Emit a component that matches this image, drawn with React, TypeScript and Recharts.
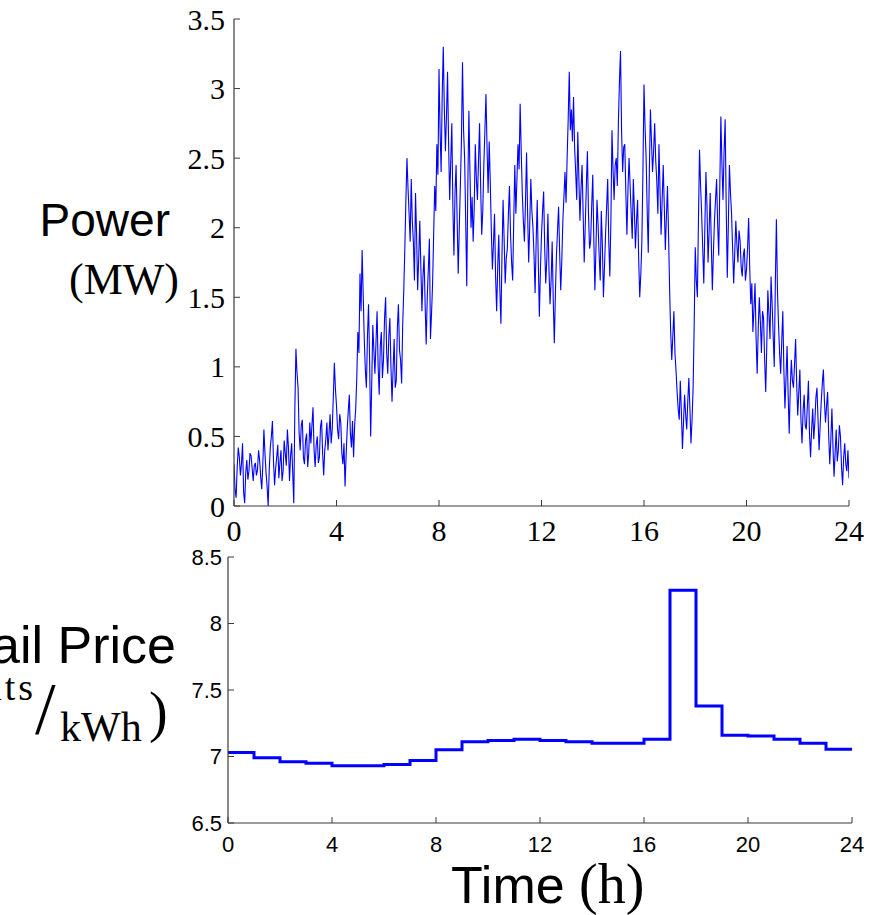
import React from 'react';
import { LineChart, Line, XAxis, YAxis } from 'recharts';

const hourTicks = [0, 4, 8, 12, 16, 20, 24];
const powerTicks = [0, 0.5, 1, 1.5, 2, 2.5, 3, 3.5];
const priceTicks = [6.5, 7, 7.5, 8, 8.5];

// Power (MW), 2.5-minute samples, two rows per hour, plus the final sample at 24 h
const powerValues = [
  0.30, 0.12, 0.06, 0.28, 0.42, 0.35, 0.22, 0.30, 0.45, 0.10, 0.02, 0.24,
  0.33, 0.19, 0.25, 0.38, 0.36, 0.27, 0.18, 0.29, 0.31, 0.22, 0.26, 0.40,
  0.33, 0.21, 0.12, 0.30, 0.55, 0.38, 0.24, 0.14, 0.00, 0.26, 0.42, 0.50,
  0.61, 0.32, 0.15, 0.27, 0.35, 0.44, 0.20, 0.31, 0.40, 0.18, 0.25, 0.47,
  0.38, 0.29, 0.55, 0.42, 0.18, 0.36, 0.45, 0.24, 0.02, 0.70, 1.13, 0.96,
  0.85, 0.52, 0.40, 0.58, 0.62, 0.35, 0.30, 0.47, 0.52, 0.28, 0.38, 0.60,
  0.45, 0.58, 0.71, 0.40, 0.28, 0.44, 0.50, 0.31, 0.35, 0.57, 0.62, 0.38,
  0.22, 0.40, 0.48, 0.60, 0.40, 0.52, 0.66, 0.45, 0.55, 0.78, 1.03, 0.84,
  0.72, 0.55, 0.48, 0.66, 0.60, 0.38, 0.30, 0.45, 0.14, 0.36, 0.55, 0.68,
  0.80, 0.52, 0.42, 0.61, 0.35, 0.58, 0.70, 0.92, 1.25, 1.10, 1.67, 1.40,
  1.84, 1.52, 1.20, 0.98, 0.85, 1.22, 1.45, 1.05, 0.50, 0.88, 1.30, 1.12,
  0.95, 1.18, 1.40, 1.00, 0.80, 1.15, 1.25, 0.92, 1.05, 1.35, 1.50, 1.10,
  0.95, 1.22, 1.35, 1.00, 0.75, 0.98, 1.20, 0.85, 0.90, 1.28, 1.45, 1.12,
  1.05, 0.88, 1.30, 1.55, 1.85, 2.20, 2.50, 2.28, 2.10, 1.90, 2.35, 2.05,
  1.90, 1.62, 2.25, 1.95, 1.55, 1.78, 2.05, 1.72, 1.40, 1.65, 1.80, 1.45,
  1.16, 1.50, 1.70, 1.92, 1.20, 1.38, 1.60, 1.95, 2.30, 2.12, 2.60, 2.38,
  3.14, 2.70, 2.40, 2.95, 3.30, 2.85, 2.55, 2.80, 3.12, 2.60, 2.20, 2.48,
  2.75, 2.15, 1.80, 2.25, 2.45, 2.05, 1.67, 2.00, 2.30, 2.62, 3.19, 2.70,
  2.50, 2.05, 1.58, 2.30, 2.84, 2.40, 2.00, 2.22, 1.90, 2.15, 2.60, 2.35,
  2.20, 2.48, 2.75, 2.30, 1.95, 2.12, 2.45, 2.70, 2.96, 2.58, 2.25, 2.62,
  2.34, 1.98, 1.70, 1.88, 2.10, 1.65, 1.40, 1.72, 1.95, 1.55, 1.31, 1.80,
  2.20, 1.92, 1.60, 1.78, 1.85, 2.10, 2.30, 1.95, 1.75, 1.62, 2.05, 2.45,
  2.10, 2.35, 2.60, 2.42, 2.89, 2.55, 2.25, 2.05, 1.90, 2.18, 2.54, 2.10,
  1.75, 2.02, 2.35, 2.12, 2.00, 1.80, 1.53, 1.90, 2.20, 1.75, 1.36, 1.70,
  1.95, 2.12, 2.26, 1.85, 1.60, 1.78, 2.10, 1.70, 1.45, 1.62, 1.90, 1.48,
  1.17, 1.52, 1.80, 1.98, 2.15, 1.82, 1.55, 1.76, 2.05, 2.22, 2.40, 2.18,
  2.50, 2.78, 3.12, 2.70, 2.85, 2.62, 2.94, 2.58, 2.40, 2.20, 2.69, 2.35,
  2.05, 2.28, 2.45, 2.10, 1.75, 2.02, 2.30, 2.55, 2.10, 1.85, 1.90, 2.15,
  2.38, 1.92, 1.55, 1.85, 2.20, 2.02, 1.80, 1.62, 2.12, 1.88, 1.50, 1.72,
  1.95, 2.15, 2.35, 1.90, 1.65, 2.05, 2.70, 2.42, 2.20, 2.45, 2.50, 2.30,
  2.75, 3.05, 3.27, 2.70, 2.40, 2.58, 2.60, 2.25, 1.95, 2.28, 2.50, 2.30,
  2.10, 1.92, 2.35, 2.12, 1.85, 2.05, 2.20, 1.78, 1.50, 1.66, 1.90, 2.40,
  3.03, 2.72, 2.50, 2.12, 1.82, 2.40, 2.85, 2.62, 2.40, 2.55, 2.75, 2.48,
  2.33, 2.10, 2.60, 2.28, 1.95, 2.20, 2.45, 2.15, 1.84, 2.08, 2.30, 1.95,
  1.55, 1.25, 1.05, 1.22, 1.40, 1.10, 0.97, 0.82, 0.70, 0.62, 0.90, 0.68,
  0.41, 0.60, 0.80, 0.66, 0.55, 0.75, 0.92, 0.70, 0.45, 0.62, 0.85, 1.30,
  1.86, 1.62, 1.50, 2.05, 2.56, 2.30, 2.10, 1.85, 1.60, 2.00, 2.40, 2.15,
  1.75, 1.98, 2.25, 1.90, 1.55, 1.82, 2.05, 2.20, 2.35, 2.02, 1.80, 2.30,
  2.80, 2.45, 2.20, 2.55, 2.78, 2.15, 1.64, 2.02, 2.45, 2.25, 2.10, 1.85,
  1.60, 1.82, 2.05, 1.88, 1.75, 1.98, 1.91, 1.72, 1.65, 1.80, 1.85, 1.62,
  1.70, 1.85, 2.07, 1.72, 1.45, 1.60, 1.25, 1.42, 1.60, 1.20, 0.95, 1.28,
  1.50, 1.32, 1.10, 1.40, 1.35, 1.05, 0.82, 1.15, 1.55, 1.38, 1.20, 1.65,
  1.45, 1.22, 1.00, 1.60, 2.06, 1.55, 1.30, 1.10, 0.95, 1.18, 1.40, 0.98,
  0.70, 0.92, 1.15, 0.80, 0.52, 0.85, 1.05, 0.90, 0.85, 1.02, 1.20, 0.88,
  0.65, 0.82, 0.98, 0.62, 0.45, 0.68, 0.80, 0.58, 0.55, 0.72, 0.90, 0.52,
  0.35, 0.55, 0.70, 0.48, 0.60, 0.78, 0.85, 0.62, 0.40, 0.58, 0.75, 0.88,
  0.98, 0.75, 0.60, 0.72, 0.82, 0.50, 0.30, 0.48, 0.70, 0.42, 0.21, 0.38,
  0.55, 0.32, 0.40, 0.58, 0.50, 0.28, 0.15, 0.35, 0.45, 0.30, 0.25, 0.40,
  0.20,
];
const samplesPerHour = 24;

// Retail price (cents/kWh), one value per hour
const priceValues = [
  7.03, 6.99, 6.96, 6.95, 6.93, 6.93, 6.94, 6.97, 7.05, 7.11, 7.12, 7.13,
  7.12, 7.11, 7.10, 7.10, 7.13, 8.25, 7.38, 7.16, 7.155, 7.13, 7.10, 7.055,
];

const powerData = powerValues.map((p, i) => ({ t: i / samplesPerHour, p }));
const priceData = [...priceValues, priceValues[priceValues.length - 1]].map((c, i) => ({ t: i, c }));

const AXIS = '#3a3a3a';
const SERIF = "'Liberation Serif', 'Times New Roman', serif";
const SANS = "'Liberation Sans', Arial, Helvetica, sans-serif";
const BLUE = '#0000ff';
const TICK_LEN = 6;

const bottomTick = (ff: string, fs: number, gap: number) => (props: any) => {
  const { x, y, payload } = props;
  return (
    <g>
      <line x1={x} y1={y - gap} x2={x} y2={y - gap - TICK_LEN} stroke={AXIS} strokeWidth={1} />
      <text x={x} y={y} dy="0.7em" textAnchor="middle" fontFamily={ff} fontSize={fs} fill="#000">
        {payload.value}
      </text>
    </g>
  );
};

const leftTick = (ff: string, fs: number, gap: number) => (props: any) => {
  const { x, y, payload } = props;
  return (
    <g>
      <line x1={x + gap} y1={y} x2={x + gap + TICK_LEN} y2={y} stroke={AXIS} strokeWidth={1} />
      <text x={x} y={y} dy="0.35em" textAnchor="end" fontFamily={ff} fontSize={fs} fill="#000">
        {payload.value}
      </text>
    </g>
  );
};

const topTick = (props: any) => {
  const { x, y } = props;
  return <line x1={x} y1={y} x2={x} y2={y + TICK_LEN} stroke={AXIS} strokeWidth={1} />;
};

const rightTick = (props: any) => {
  const { x, y } = props;
  return <line x1={x} y1={y} x2={x - TICK_LEN} y2={y} stroke={AXIS} strokeWidth={1} />;
};

export default function App() {
  return (
    <div style={{ position: 'absolute', left: 0, top: 0, width: 882, height: 915, background: '#fff', overflow: 'hidden' }}>
      <div style={{ position: 'absolute', left: 0, top: 0 }}>
        <LineChart width={882} height={560} data={powerData} margin={{ top: 19, right: 33, left: 174, bottom: 24 }}>
          <XAxis
            dataKey="t"
            type="number"
            domain={[0, 24]}
            ticks={hourTicks}
            interval={0}
            allowDataOverflow
            height={30}
            tickSize={0}
            tickMargin={14}
            tickLine={false}
            axisLine={{ stroke: AXIS, strokeWidth: 1.2 }}
            tick={bottomTick(SERIF, 30, 14)}
          />
          <XAxis
            xAxisId="top"
            orientation="top"
            type="number"
            domain={[0, 24]}
            ticks={hourTicks}
            interval={0}
            allowDataOverflow
            height={0}
            tickSize={0}
            tickMargin={0}
            tickLine={false}
            axisLine={{ stroke: AXIS, strokeWidth: 1.2 }}
            tick={topTick}
          />
          <YAxis
            type="number"
            domain={[0, 3.5]}
            ticks={powerTicks}
            interval={0}
            allowDataOverflow
            width={60}
            tickSize={0}
            tickMargin={9}
            tickLine={false}
            axisLine={{ stroke: AXIS, strokeWidth: 1.2 }}
            tick={leftTick(SERIF, 30, 9)}
          />
          <YAxis
            yAxisId="right"
            orientation="right"
            type="number"
            domain={[0, 3.5]}
            ticks={powerTicks}
            interval={0}
            allowDataOverflow
            width={0}
            tickSize={0}
            tickMargin={0}
            tickLine={false}
            axisLine={{ stroke: AXIS, strokeWidth: 1.2 }}
            tick={rightTick}
          />
          <Line
            type="linear"
            dataKey="p"
            stroke={BLUE}
            strokeWidth={1.1}
            dot={false}
            activeDot={false}
            isAnimationActive={false}
          />
        </LineChart>
      </div>
      <div style={{ position: 'absolute', left: 0, top: 540 }}>
        <LineChart width={882} height={375} data={priceData} margin={{ top: 17, right: 30, left: 168, bottom: 67 }}>
          <XAxis
            dataKey="t"
            type="number"
            domain={[0, 24]}
            ticks={hourTicks}
            interval={0}
            allowDataOverflow
            height={25}
            tickSize={0}
            tickMargin={14}
            tickLine={false}
            axisLine={{ stroke: AXIS, strokeWidth: 1.2 }}
            tick={bottomTick(SANS, 22, 14)}
          />
          <XAxis
            xAxisId="top"
            orientation="top"
            type="number"
            domain={[0, 24]}
            ticks={hourTicks}
            interval={0}
            allowDataOverflow
            height={0}
            tickSize={0}
            tickMargin={0}
            tickLine={false}
            axisLine={{ stroke: AXIS, strokeWidth: 1.2 }}
            tick={topTick}
          />
          <YAxis
            type="number"
            domain={[6.5, 8.5]}
            ticks={priceTicks}
            interval={0}
            allowDataOverflow
            width={60}
            tickSize={0}
            tickMargin={6}
            tickLine={false}
            axisLine={{ stroke: AXIS, strokeWidth: 1.2 }}
            tick={leftTick(SANS, 22, 6)}
          />
          <YAxis
            yAxisId="right"
            orientation="right"
            type="number"
            domain={[6.5, 8.5]}
            ticks={priceTicks}
            interval={0}
            allowDataOverflow
            width={0}
            tickSize={0}
            tickMargin={0}
            tickLine={false}
            axisLine={{ stroke: AXIS, strokeWidth: 1.2 }}
            tick={rightTick}
          />
          <Line
            type="stepAfter"
            dataKey="c"
            stroke={BLUE}
            strokeWidth={3}
            dot={false}
            activeDot={false}
            isAnimationActive={false}
          />
        </LineChart>
      </div>
      <svg
        width={882}
        height={915}
        style={{ position: 'absolute', left: 0, top: 0, pointerEvents: 'none' }}
      >
        <text x={170} y={236} textAnchor="end" fontFamily={SANS} fontSize={46} fill="#000">Power</text>
        <text x={124} y={294} textAnchor="middle" fontFamily={SERIF} fontSize={44} fill="#000">(MW)</text>
        <text x={176} y={663} textAnchor="end" fontFamily={SANS} fontSize={52} fill="#000">Retail Price</text>
        <text x={36} y={700} textAnchor="end" fontFamily={SERIF} fontSize={38} letterSpacing={3} fill="#000">(cents</text>
        <text x={35} y={734} textAnchor="start" fontFamily={SERIF} fontSize={74} fill="#000">/</text>
        <text x={60} y={741} textAnchor="start" fontFamily={SERIF} fontSize={42} fill="#000">kWh</text>
        <text x={149} y={731} textAnchor="start" fontFamily={SERIF} fontSize={56} fill="#000">)</text>
        <text x={451} y={903} fill="#000">
          <tspan fontFamily={SANS} fontSize={52}>Time </tspan>
          <tspan fontFamily={SERIF} fontSize={56}>(h)</tspan>
        </text>
      </svg>
    </div>
  );
}
